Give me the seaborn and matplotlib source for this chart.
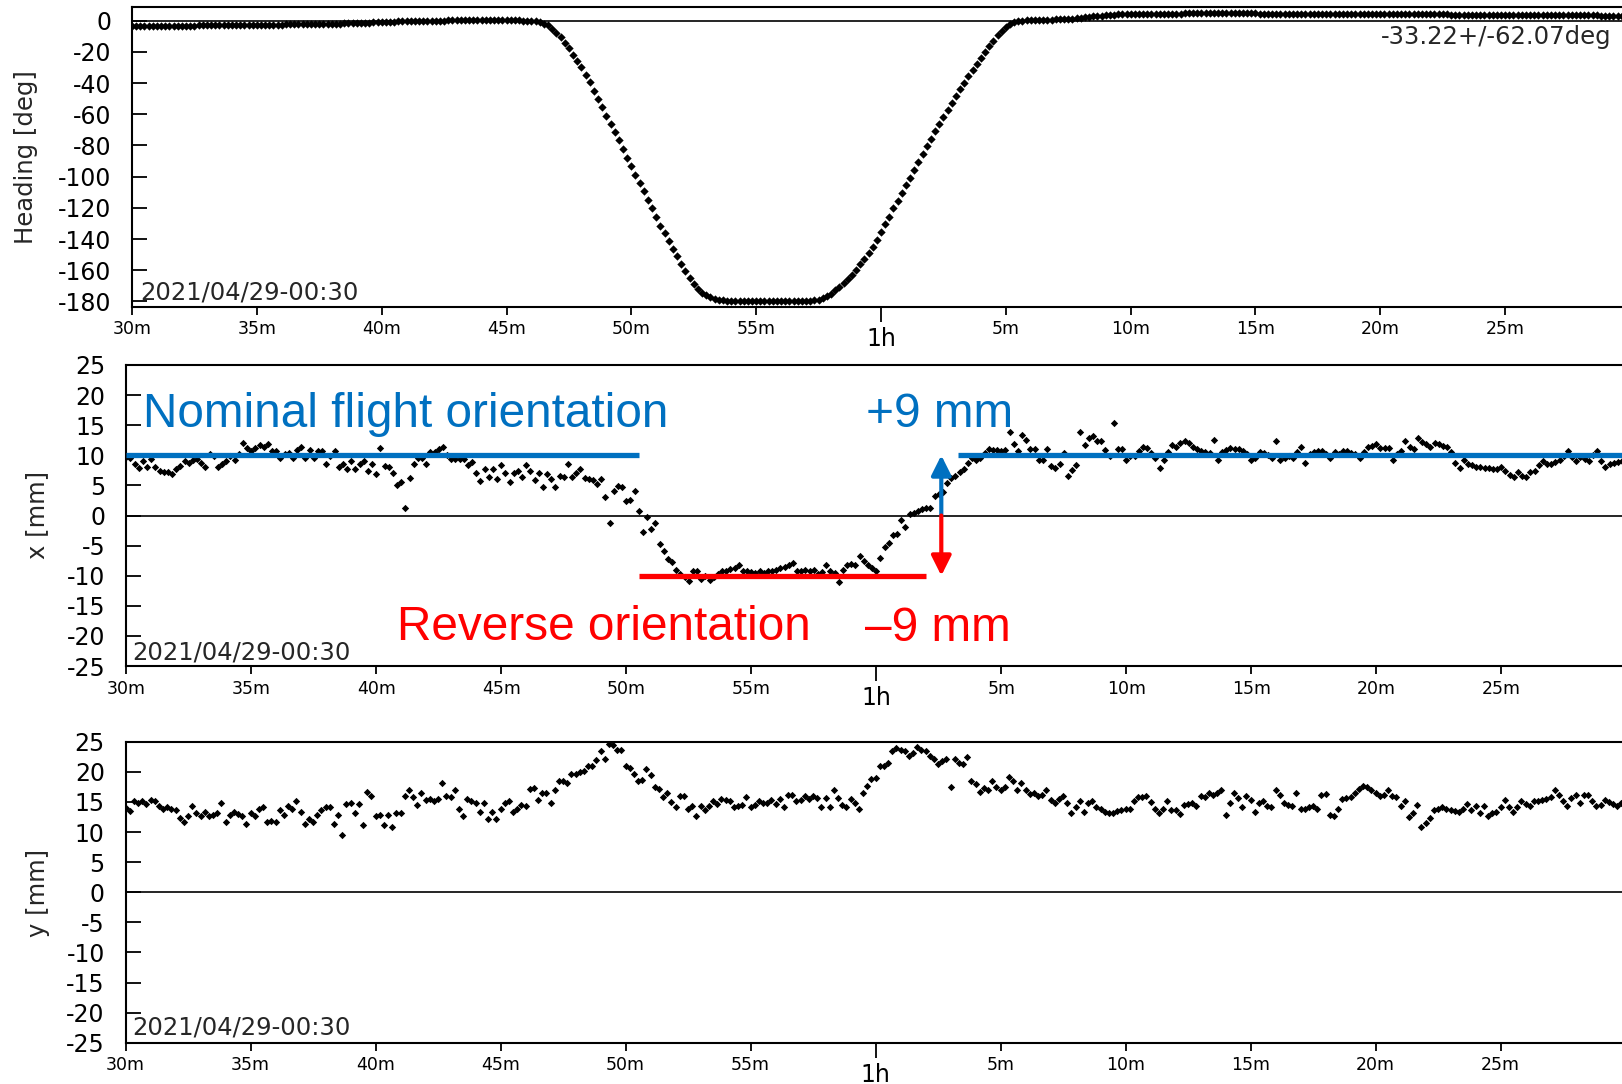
import numpy as np
import pandas as pd
import seaborn as sns
import matplotlib
matplotlib.use("Agg")
import matplotlib.pyplot as plt
from matplotlib.ticker import FixedLocator, FuncFormatter

# ---------------- data (10 s samples starting at 00:30) ----------------
T0_MIN = 30.0
DT_MIN = 1.0 / 6.0

heading_deg = [
    -3.4,-3.4,-3.4,-3.3,-3.3,-3.3,-3.3,-3.2,-3.2,-3.2,-3.2,-3.2,
    -3.1,-3.1,-3.1,-3.1,-3.0,-3.0,-3.0,-3.0,-3.0,-2.9,-2.9,-2.9,
    -2.9,-2.8,-2.8,-2.8,-2.7,-2.7,-2.7,-2.6,-2.6,-2.6,-2.5,-2.5,
    -2.5,-2.4,-2.4,-2.3,-2.3,-2.2,-2.2,-2.1,-2.1,-2.0,-2.0,-1.9,
    -1.9,-1.8,-1.8,-1.7,-1.6,-1.6,-1.5,-1.4,-1.3,-1.2,-1.1,-1.0,
    -0.9,-0.8,-0.7,-0.6,-0.5,-0.4,-0.3,-0.2,-0.2,-0.1,-0.1,0.0,
    0.0,0.1,0.1,0.1,0.2,0.2,0.2,0.2,0.3,0.3,0.3,0.3,
    0.3,0.3,0.3,0.3,0.3,0.3,0.3,0.2,0.2,0.2,0.1,0.0,
    0.0,-0.3,-0.8,-1.8,-3.0,-5.0,-7.6,-10.6,-14.0,-17.4,-21.8,-25.8,
    -30.0,-34.8,-39.6,-44.8,-50.2,-55.4,-60.8,-66.4,-71.6,-76.6,-82.2,-87.8,
    -93.4,-99.0,-104.2,-109.4,-114.8,-120.2,-125.8,-131.4,-136.2,-141.2,-146.4,-151.2,
    -156.0,-160.4,-164.8,-168.9,-172.2,-174.5,-176.0,-177.3,-178.2,-178.9,-179.3,-179.5,
    -179.6,-179.7,-179.7,-179.7,-179.8,-179.8,-179.8,-179.8,-179.8,-179.8,-179.8,-179.8,
    -179.8,-179.8,-179.8,-179.8,-179.8,-179.7,-179.7,-179.5,-179.2,-179.0,-178.0,-176.7,
    -175.0,-172.8,-170.6,-168.4,-165.8,-162.8,-159.6,-156.2,-152.6,-148.8,-144.8,-140.6,
    -135.6,-130.6,-125.6,-120.4,-115.4,-110.6,-105.6,-100.6,-95.6,-90.6,-85.6,-80.6,
    -75.8,-71.0,-66.4,-61.8,-57.2,-52.8,-48.4,-44.0,-39.8,-35.6,-31.6,-27.6,
    -23.8,-20.0,-16.4,-12.8,-9.4,-6.4,-3.8,-2.0,-0.9,-0.3,0.0,0.2,
    0.3,0.4,0.4,0.5,0.6,0.7,0.8,0.9,1.0,1.2,1.4,1.6,
    1.9,2.2,2.5,2.8,3.1,3.3,3.5,3.7,3.9,4.0,4.1,4.2,
    4.3,4.3,4.4,4.4,4.5,4.5,4.5,4.6,4.6,4.6,4.6,4.6,
    4.6,4.7,4.7,4.7,4.7,4.7,4.7,4.7,4.7,4.7,4.7,4.7,
    4.7,4.7,4.7,4.7,4.7,4.7,4.7,4.6,4.6,4.6,4.6,4.6,
    4.6,4.6,4.6,4.6,4.6,4.6,4.5,4.5,4.5,4.5,4.5,4.5,
    4.5,4.5,4.5,4.5,4.4,4.4,4.4,4.4,4.4,4.4,4.3,4.3,
    4.3,4.3,4.3,4.3,4.2,4.2,4.2,4.2,4.1,4.1,4.1,4.1,
    4.1,4.0,4.0,4.0,4.0,3.9,3.9,3.9,3.9,3.9,3.8,3.8,
    3.8,3.8,3.8,3.7,3.7,3.7,3.7,3.7,3.6,3.6,3.6,3.6,
    3.6,3.6,3.5,3.5,3.5,3.5,3.5,3.5,3.5,3.4,3.4,3.4,
    3.4,3.4,3.4,3.4,3.4,3.3,3.3,3.3,3.3,3.3,3.3,3.3,
]

x_mm = [
    9.8,
    9.5,8.5,7.9,9.0,8.1,9.4,8.0,7.4,7.3,7.3,
    6.9,7.7,8.3,9.0,8.8,9.2,9.4,8.8,8.1,10.2,
    9.9,8.1,8.5,9.1,9.9,9.2,10.2,12.1,11.2,10.7,
    11.2,
    11.7,11.4,11.8,10.7,10.7,9.5,10.2,10.4,9.5,10.9,
    11.4,9.5,10.9,9.5,10.7,10.7,8.6,9.9,10.7,8.1,
    8.5,7.7,9.1,7.7,8.6,9.0,7.4,8.5,6.9,11.2,
    8.3,8.0,7.1,5.1,5.6,1.3,6.2,8.6,9.6,9.6,
    8.5,10.6,10.6,11.0,11.4,
    10.1,
    9.4,9.4,9.4,9.4,8.4,8.9,7.0,5.8,7.7,6.4,
    7.7,6.0,8.4,7.0,5.6,7.0,7.4,6.4,8.4,7.4,
    5.9,7.0,4.7,6.9,6.0,4.7,6.6,6.4,8.5,6.4,
    7.0,7.7,6.2,6.0,5.9,5.2,6.1,3.0,-1.2,4.1,
    4.9,4.7,2.4,2.6,4.0,0.8,-2.8,-0.3,-2.3,-1.3,
    -4.7,-5.9,-7.3,-7.8,-9.1,-9.7,-10.2,-10.9,-9.2,
    -9.2,-10.5,-10.0,-10.7,-10.2,-9.8,-9.2,-9.3,-8.9,-8.7,
    -8.3,-9.3,-9.3,-9.4,-9.6,-9.3,-9.5,-9.3,-9.2,-9.0,
    -8.7,-8.5,-8.3,-7.9,-9.2,-9.2,-9.0,-9.2,-9.0,-9.8,
    -9.4,-8.3,-9.3,-9.6,-11.1,-9.0,-8.3,-8.1,-8.3,-6.8,
    -7.5,-8.2,-8.7,-9.3,-7.0,-5.3,-4.5,-3.3,-3.1,-0.7,
    -1.9,0.2,0.4,0.8,1.1,1.3,1.3,3.2,3.6,3.9,
    5.4,6.2,6.6,7.3,7.8,8.8,9.5,9.2,9.6,10.4,
    11.0,10.8,10.8,10.7,10.9,13.8,11.9,10.7,13.4,12.5,
    11.0,11.0,9.2,9.2,11.0,8.2,7.9,8.6,10.4,6.6,
    7.6,8.4,13.8,11.7,12.9,13.2,12.3,12.3,10.8,9.9,
    15.4,11.0,11.0,9.2,9.9,9.9,10.7,11.3,11.2,10.4,
    9.6,7.9,9.3,10.6,11.7,11.4,12.0,12.4,12.1,11.4,
    11.0,10.7,10.6,10.4,12.5,9.3,10.6,10.8,11.2,11.0,
    11.0,10.7,10.2,9.2,9.6,10.6,10.4,10.0,9.5,12.4,
    9.3,9.5,9.9,9.6,10.5,11.3,8.8,10.2,10.6,10.7,
    10.7,10.2,9.6,10.6,10.2,10.7,10.7,10.4,10.2,9.6,
    10.6,11.3,11.6,11.8,11.2,11.2,11.2,9.3,10.2,10.7,
    12.4,11.4,11.0,12.8,12.2,11.8,11.3,12.1,11.9,11.6,
    11.3,10.5,8.8,7.9,9.2,8.6,8.4,8.1,8.0,7.9,
    7.9,7.7,7.8,8.1,7.4,6.8,6.4,7.2,6.6,6.4,
    7.2,7.4,8.4,9.1,8.6,8.6,8.9,9.3,9.9,10.7,
    9.8,9.1,9.7,9.4,9.1,10.0,10.7,9.0,8.1,8.5,
    8.8,8.9,9.1,
]

y_mm = [
    14.0,
    13.5,15.1,14.8,15.2,14.6,15.3,15.1,14.3,13.9,14.2,
    13.8,13.7,12.3,11.6,12.6,14.3,13.1,12.7,13.4,12.7,
    12.8,13.1,14.8,11.7,12.8,13.4,13.0,12.7,11.3,13.1,
    12.7,13.9,14.1,11.7,11.9,11.6,13.6,12.8,14.3,13.8,
    15.2,13.4,11.3,12.1,11.7,12.8,13.7,14.2,14.1,11.3,
    12.8,9.5,14.7,14.8,13.1,14.7,11.2,16.7,16.0,12.6,
    12.8,11.2,12.8,10.8,13.1,13.2,15.9,17.0,15.8,14.5,
    16.4,15.3,15.4,15.2,15.4,18.2,15.9,15.8,16.9,13.9,
    12.7,15.4,15.2,14.8,13.4,14.8,12.1,13.4,12.1,13.9,
    14.8,15.1,13.4,13.9,14.5,14.3,17.1,17.3,15.3,16.4,
    16.4,14.8,17.0,18.5,18.5,18.2,19.6,19.6,19.9,20.2,
    20.9,21.0,21.9,23.5,22.1,24.7,24.5,23.6,23.7,21.0,
    20.6,19.6,18.5,18.6,20.4,19.5,17.5,17.1,15.8,16.4,
    15.0,
    14.1,15.9,16.0,13.8,14.3,12.7,14.3,13.7,14.3,15.1,
    14.6,
    15.4,15.3,15.1,14.1,14.3,14.5,15.8,14.2,14.5,15.1,
    14.8,
    14.8,15.3,14.7,15.4,14.2,16.2,16.2,15.1,15.3,15.9,
    15.5,
    16.0,15.6,14.1,15.6,14.1,17.0,15.6,14.5,14.1,15.4,
    14.9,
    13.8,16.4,17.6,
    18.8,18.9,21.0,21.0,21.5,23.4,24.0,23.7,
    23.5,22.6,23.1,
    24.2,23.7,23.5,22.6,22.1,21.3,21.8,
    22.2,17.4,22.2,21.5,21.3,22.5,18.4,17.9,
    16.7,17.3,17.0,
    18.5,17.4,17.0,17.4,19.1,18.5,16.9,18.2,17.0,16.3,
    16.4,15.9,16.2,16.9,15.3,14.8,15.4,15.9,14.8,13.2,
    14.2,15.2,13.4,14.9,15.2,14.2,13.8,13.4,13.1,13.1,
    13.5,13.7,13.9,13.8,15.2,15.8,15.8,16.0,15.0,13.8,
    13.2,13.9,15.1,13.7,13.7,13.0,14.5,14.7,14.8,14.3,
    15.9,15.8,16.4,16.2,16.5,17.0,12.8,14.8,16.5,15.6,
    14.1,15.9,15.3,13.4,14.8,15.1,14.3,14.2,16.9,16.2,
    14.8,14.5,14.3,16.4,13.9,13.9,14.1,14.3,13.9,16.2,
    16.3,12.8,12.6,13.9,15.4,15.6,15.8,16.4,17.1,17.7,
    17.5,17.0,16.4,15.9,16.2,16.9,16.0,15.8,14.3,15.2,
    12.5,13.1,14.5,10.9,11.5,12.3,13.7,13.9,14.2,13.8,
    13.7,13.5,13.4,13.8,14.7,13.7,14.3,13.1,14.3,12.6,
    13.2,13.4,14.2,15.3,14.2,13.4,14.1,15.1,14.7,14.3,
    15.1,15.2,15.3,15.4,15.8,16.9,16.2,15.2,14.3,15.6,
    16.2,14.8,16.2,16.2,15.2,14.3,14.5,15.3,15.0,14.6,
    14.4,14.8,
]

# annotation levels / spans (minutes after 00:00)
nominal_level = 10.0
reverse_level = -10.0
nominal_spans = [(30.0, 50.5), (63.25, 90.0)]
reverse_span = (50.5, 62.0)
offset_arrow_time = 62.6

date_label = "2021/04/29-00:30"
heading_stats = "-33.22+/-62.07deg"
minor_tick_minutes = [30, 35, 40, 45, 50, 55, 65, 70, 75, 80, 85]
major_tick_minutes = [60]

BLUE = "#0070C0"
RED = "#FF0000"

def make_frame(values):
    n = len(values)
    return pd.DataFrame({"t": T0_MIN + np.arange(n) * DT_MIN, "v": values})

df_h = make_frame(heading_deg)
df_x = make_frame(x_mm)
df_y = make_frame(y_mm)

# ---------------- styling ----------------
sns.set_style("white")
plt.rcParams["font.family"] = ["DejaVu Sans"]
plt.rcParams["axes.unicode_minus"] = False

W, H = 1622, 1084
fig = plt.figure(figsize=(W / 100, H / 100), dpi=100)


def axes_px(left, top, right, bottom):
    return fig.add_axes([left / W, 1 - bottom / H, (right - left) / W, (bottom - top) / H])


ax1 = axes_px(132, 7.3, 1630, 306.7)
ax2 = axes_px(126.3, 365, 1626.3, 666)
ax3 = axes_px(125.6, 741.7, 1625.6, 1042.7)


def minute_label(v, pos=None):
    v = int(round(v))
    if v == 60:
        return "1h"
    return f"{v % 60}m"


for ax in (ax1, ax2, ax3):
    ax.set_xlim(30, 90)
    for sp in ax.spines.values():
        sp.set_linewidth(1.5)
        sp.set_color("black")
    ax.axhline(0, color="black", lw=1.2, zorder=1)
    ax.xaxis.set_major_locator(FixedLocator(major_tick_minutes))
    ax.xaxis.set_minor_locator(FixedLocator(minor_tick_minutes))
    ax.xaxis.set_major_formatter(FuncFormatter(minute_label))
    ax.xaxis.set_minor_formatter(FuncFormatter(minute_label))
    ax.tick_params(axis="x", which="minor", direction="out", length=5.8, width=1.3,
                   labelsize=12.5, pad=4.0, bottom=True, colors="black")
    ax.tick_params(axis="x", which="major", direction="out", length=10.8, width=1.3,
                   labelsize=17, pad=3.8, bottom=True, colors="black")
    ax.tick_params(axis="y", which="major", direction="in", length=10.6, width=1.3,
                   labelsize=17, pad=15, left=True, colors="black")
    ax.set_xlabel("")
    ax.set_ylabel("")

# ---- heading panel
sns.scatterplot(data=df_h, x="t", y="v", ax=ax1, marker="D", s=18, color="black",
                linewidth=0, legend=False, zorder=3)
ax1.set_ylim(-183.4, 8.6)
ax1.set_yticks(np.arange(0, -181, -20))
ax1.set_xlabel("")
ax1.set_ylabel("")
ax1.text(30.32, -179.1, date_label, fontsize=17.5, va="baseline", ha="left")
ax1.text(89.25, -10.3, heading_stats, fontsize=17.5, va="center", ha="right")

# ---- x panel
sns.scatterplot(data=df_x, x="t", y="v", ax=ax2, marker="D", s=14, color="black",
                linewidth=0, legend=False, zorder=3)
ax2.set_ylim(-25, 25)
ax2.set_yticks(np.arange(25, -26, -5))
ax2.set_xlabel("")
ax2.set_ylabel("")
for a, b in nominal_spans:
    ax2.plot([a, b], [nominal_level, nominal_level], color=BLUE, lw=3.8,
             solid_capstyle="butt", zorder=5)
ax2.plot(list(reverse_span), [reverse_level, reverse_level], color=RED, lw=3.8,
         solid_capstyle="butt", zorder=5)
arrow_style = "-|>,head_length=0.6,head_width=0.3"
ax2.annotate("", xy=(offset_arrow_time, nominal_level), xytext=(offset_arrow_time, 0),
             arrowprops=dict(arrowstyle=arrow_style, color=BLUE, lw=3.0,
                             shrinkA=0, shrinkB=0, mutation_scale=20), zorder=6)
ax2.annotate("", xy=(offset_arrow_time, reverse_level), xytext=(offset_arrow_time, 0),
             arrowprops=dict(arrowstyle=arrow_style, color=RED, lw=3.0,
                             shrinkA=0, shrinkB=0, mutation_scale=20), zorder=6)
ann_font = ["Liberation Sans", "DejaVu Sans"]
ANN_SIZE = 34.4
ax2.text(30.67, 14.7, "Nominal flight orientation", color=BLUE, fontsize=ANN_SIZE,
         family=ann_font, va="baseline", ha="left", zorder=7)
ax2.text(59.6, 14.7, "+9 mm", color=BLUE, fontsize=ANN_SIZE,
         family=ann_font, va="baseline", ha="left", zorder=7)
ax2.text(40.83, -20.6, "Reverse orientation", color=RED, fontsize=ANN_SIZE,
         family=ann_font, va="baseline", ha="left", zorder=7)
ax2.text(59.55, -20.8, "\u20139 mm", color=RED, fontsize=ANN_SIZE,
         family=ann_font, va="baseline", ha="left", zorder=7)
ax2.text(30.25, -23.85, date_label, fontsize=17.5, va="baseline", ha="left")

# ---- y panel
sns.scatterplot(data=df_y, x="t", y="v", ax=ax3, marker="D", s=14, color="black",
                linewidth=0, legend=False, zorder=3)
ax3.set_ylim(-25, 25)
ax3.set_yticks(np.arange(25, -26, -5))
ax3.set_xlabel("")
ax3.set_ylabel("")
ax3.text(30.25, -23.7, date_label, fontsize=17.5, va="baseline", ha="left")

# y-axis titles
fig.text(26 / W, 1 - 157 / H, "Heading [deg]", rotation=90, fontsize=17.5,
         ha="center", va="center")
fig.text(37 / W, 1 - 515 / H, "x [mm]", rotation=90, fontsize=17.5,
         ha="center", va="center")
fig.text(38 / W, 1 - 893 / H, "y [mm]", rotation=90, fontsize=17.5,
         ha="center", va="center")

fig.savefig("out.png", dpi=100)
